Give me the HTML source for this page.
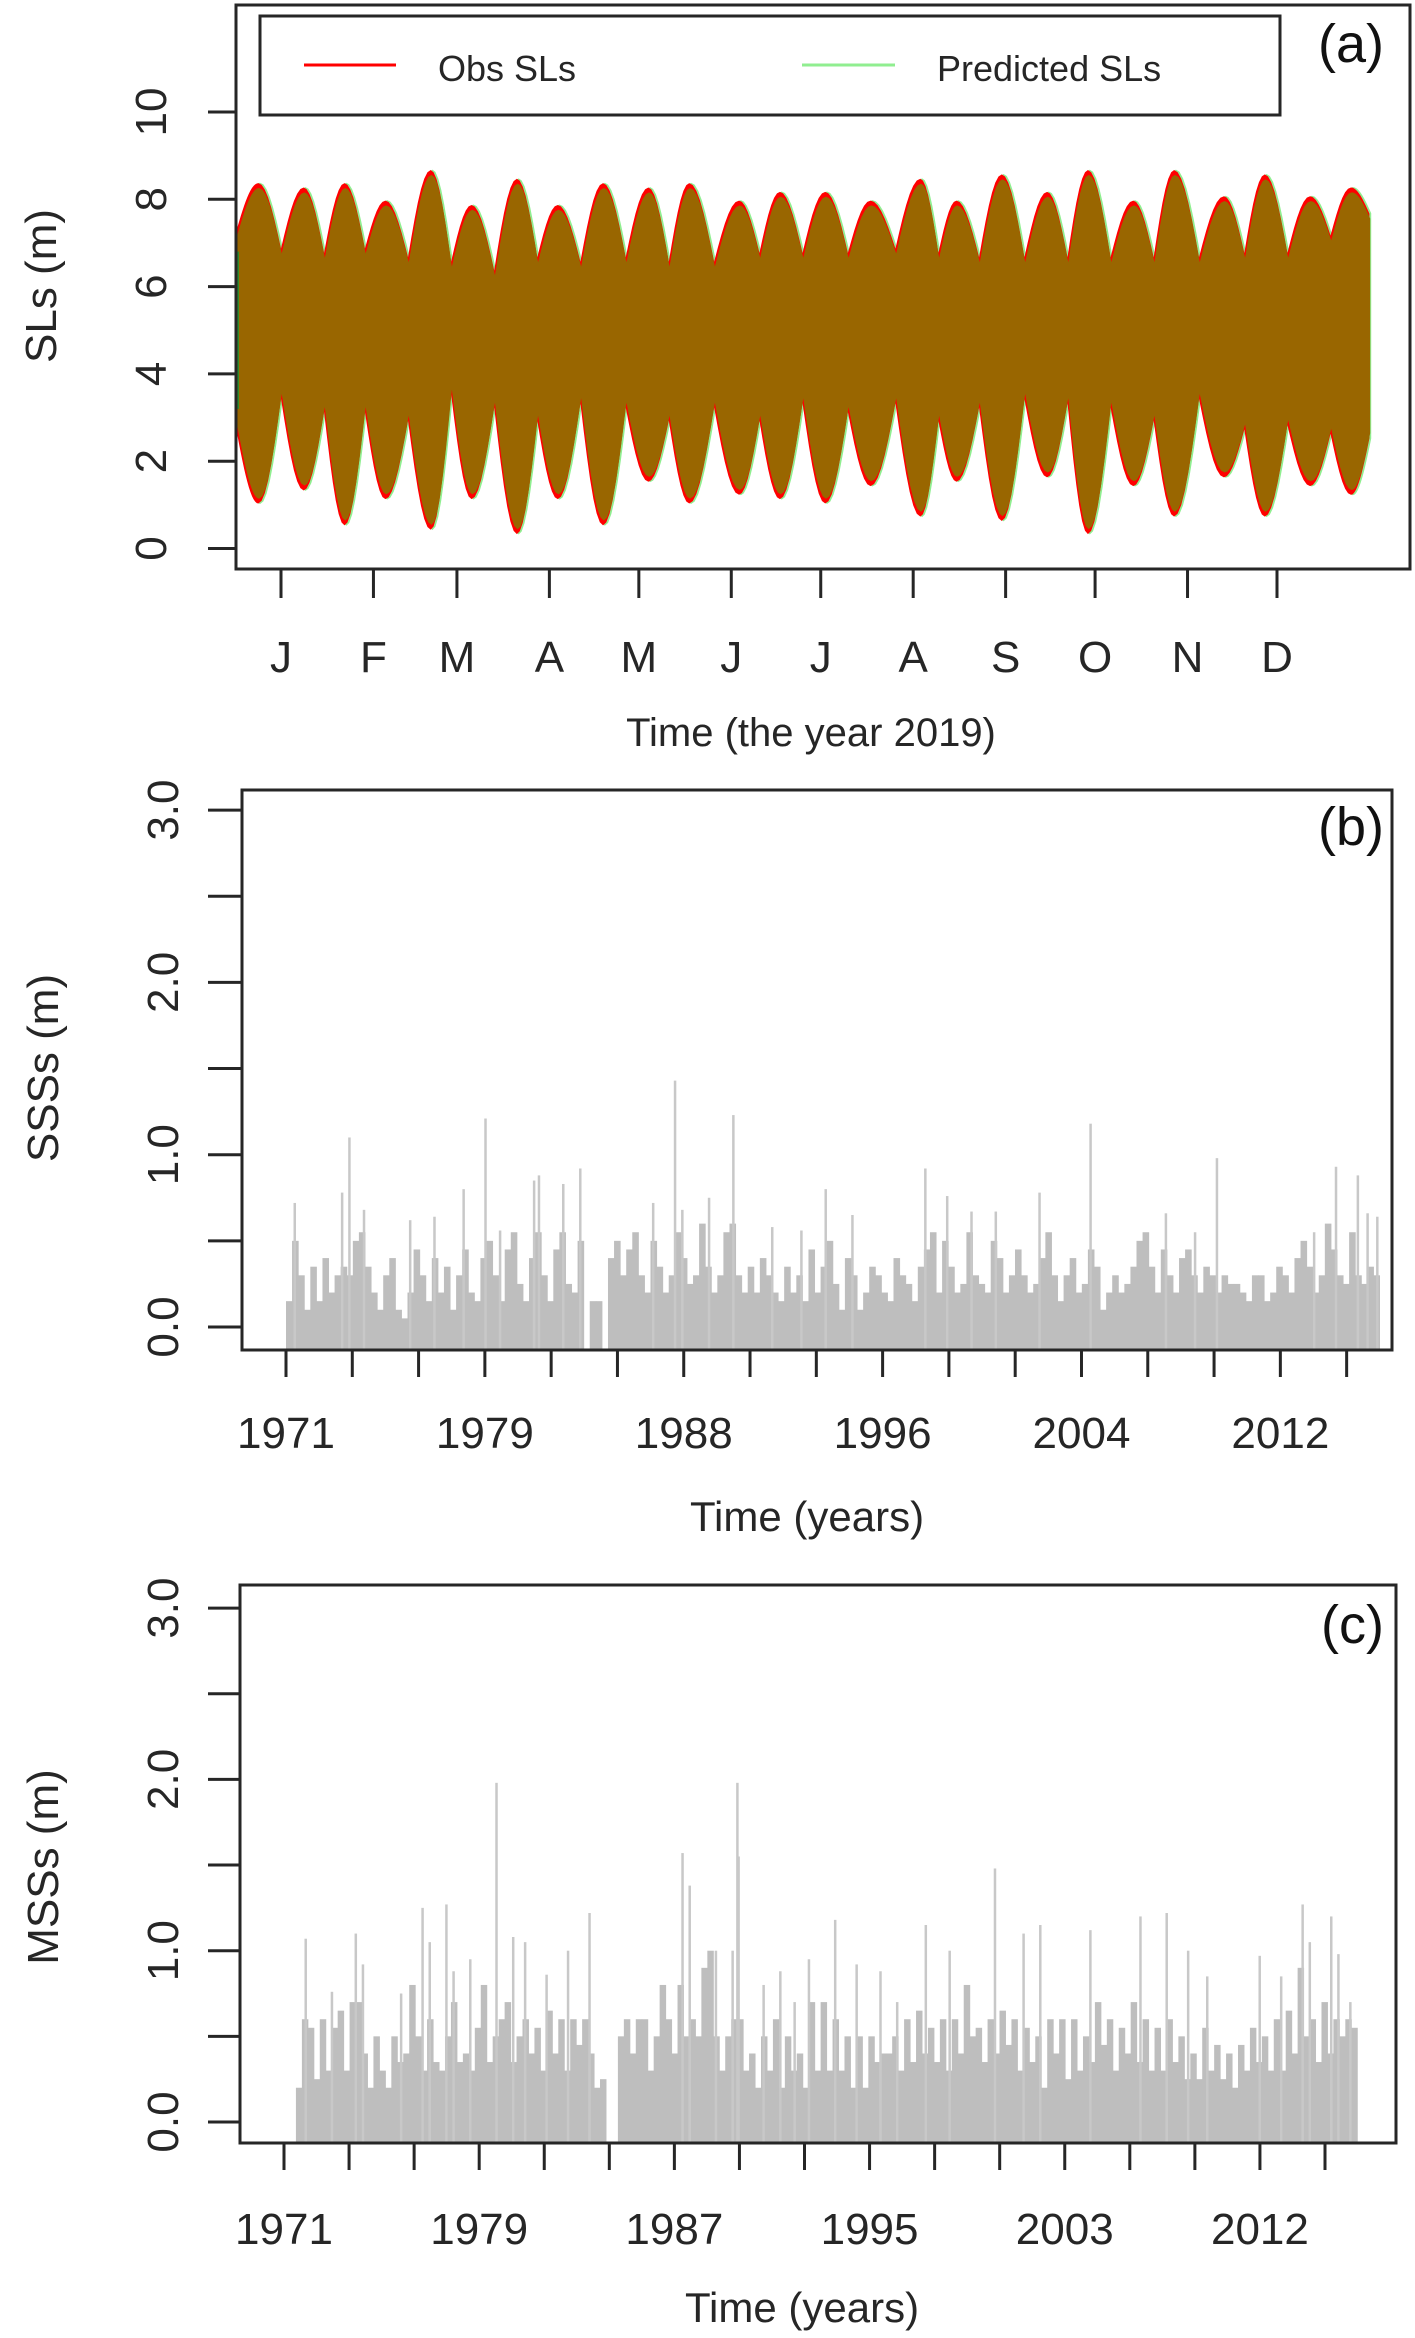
<!DOCTYPE html>
<html><head><meta charset="utf-8"><style>
html,body{margin:0;padding:0;background:#fff;}
svg{display:block;font-family:"Liberation Sans",Arial,sans-serif;}
</style></head><body>
<svg id="fig" width="1415" height="2338" viewBox="0 0 1415 2338" xmlns="http://www.w3.org/2000/svg">
<rect width="1415" height="2338" fill="#fff"/>
<g id="pa"></g>
<g id="pb"></g>
<g id="pc"></g>
</svg>
<script>
// ---------- Panel (a) data ----------
const monthLabels = ["J","F","M","A","M","J","J","A","S","O","N","D"];
const monthStartDays = [0,31,59,90,120,151,181,212,243,273,304,334];
const slTicks = [0,2,4,6,8,10];
const springDays = [-7.6,7.6,21.3,35,50.2,63.9,79.1,92.8,108,123.2,136.9,153.6,167.3,182.5,197.7,214.4,226.5,241.7,256.9,270.6,285.8,299.5,316.2,329.9,345.1,358.8];
const upperSpring = [8.3,8.2,8.3,7.9,8.6,7.8,8.4,7.8,8.3,8.2,8.3,7.9,8.1,8.1,7.9,8.4,7.9,8.5,8.1,8.6,7.9,8.6,8.0,8.5,8.0,8.2];
const upperNeap = [6.8,6.7,6.8,6.6,6.5,6.3,6.6,6.5,6.6,6.5,6.5,6.7,6.7,6.7,6.8,6.7,6.6,6.6,6.6,6.6,6.6,6.6,6.7,6.7,7.1];
const lowerSpring = [1.1,1.4,0.6,1.2,0.5,1.2,0.4,1.2,0.6,1.6,1.1,1.3,1.2,1.1,1.5,0.8,1.6,0.7,1.7,0.4,1.5,0.8,1.7,0.8,1.5,1.3];
const lowerNeap = [3.5,3.2,3.2,3.0,3.6,3.3,3.0,3.4,3.3,3.0,3.3,3.0,3.4,3.2,3.4,3.0,3.3,3.5,3.4,3.3,3.0,3.5,2.8,2.9,2.7];
const seriesStart = [-15, 7.2, 2.8];
const seriesEnd = [365, 7.6, 2.6];

// ---------- Panel (b) data (quarterly base, per year 1971..2015) ----------
const sssTickLabels = ["1971","1979","1988","1996","2004","2012"];
const sssBase = [
.15,.5,.3,.1, .35,.15,.4,.2, .3,.35,.3,.5, .55,.35,.2,.1, .3,.4,.1,.05,
.2,.45,.3,.15, .4,.2,.35,.1, .3,.45,.2,.15, .4,.5,.3,.15, .45,.55,.25,.15,
.4,.55,.3,.15, .45,.55,.25,.2, .5,null,.15,.15, null,.4,.5,.3, .45,.55,.3,.2,
.5,.35,.2,.3, .55,.4,.25,.3, .6,.35,.2,.3, .55,.6,.3,.2, .35,.2,.4,.3,
.2,.15,.35,.2, .3,.15,.45,.2, .35,.5,.25,.1, .4,.3,.1,.2, .35,.3,.2,.15,
.4,.3,.25,.15, .35,.45,.55,.2, .5,.35,.2,.25, .55,.3,.25,.2, .5,.4,.2,.3,
.45,.3,.2,.25, .4,.55,.3,.15, .3,.4,.2,.25, .45,.35,.1,.2, .3,.2,.25,.35,
.5,.55,.35,.2, .45,.3,.2,.4, .45,.3,.2,.35, .3,.2,.3,.25, .25,.2,.15,.3,
.3,.15,.2,.35, .3,.2,.4,.5, .35,.2,.3,.6, .45,.3,.25,.55, .3,.25,.35,.3];
const sssSpikeYears = [1971.35,1973.3,1973.6,1974.2,1976.1,1977.1,1978.3,1979.2,1979.8,1981.2,1981.4,1982.4,1983.1,1986.1,1987.0,1987.3,1988.4,1989.4,1991.0,1992.2,1993.2,1994.3,1997.3,1998.2,1999.2,2000.2,2002.0,2004.1,2007.2,2008.4,2009.3,2013.3,2014.2,2015.1,2015.5,2015.9];
const sssSpikeValues = [.72,.78,1.1,.68,.62,.64,.80,1.21,.56,.85,.88,.83,.92,.72,1.43,.68,.75,1.23,.58,.56,.80,.65,.92,.76,.67,.67,.78,1.18,.66,.55,.98,.55,.93,.88,.66,.64];

// ---------- Panel (c) data ----------
const mssTickLabels = ["1971","1979","1987","1995","2003","2012"];
const mssBase = [
null,null,.2,.6, .55,.25,.6,.3, .55,.65,.3,.7, .7,.4,.2,.5, .3,.2,.5,.35,
.4,.8,.5,.3, .6,.35,.3,.5, .7,.35,.4,.3, .55,.8,.35,.5, .6,.7,.35,.5,
.6,.4,.55,.3, .65,.4,.6,.3, .6,.45,.6,.4, .2,.25,null,null, .5,.6,.4,.6,
.6,.3,.5,.8, .6,.4,.8,.5, .6,.5,.9,1.0, .5,.3,.5,.6, .6,.3,.4,.2,
.5,.3,.6,.2, .5,.3,.4,.2, .7,.3,.7,.3, .6,.3,.5,.2, .5,.2,.5,.35,
.4,.4,.5,.3, .6,.35,.65,.4, .55,.35,.6,.3, .6,.4,.8,.5, .55,.35,.6,.4,
.65,.45,.6,.3, .55,.35,.5,.2, .6,.4,.6,.25, .6,.3,.5,.35, .7,.45,.6,.3,
.55,.4,.7,.35, .6,.3,.55,.3, .6,.35,.5,.25, .4,.25,.55,.3, .45,.25,.4,.2,
.45,.3,.55,.35, .5,.3,.6,.3, .65,.4,.9,.5, .6,.35,.7,.4, .6,.5,.6,.55];
const mssSpikeYears = [1971.9,1973.0,1974.0,1974.3,1975.9,1976.8,1977.1,1977.8,1978.1,1978.8,1979.9,1980.6,1981.1,1982.0,1982.9,1983.8,1987.7,1988.0,1989.1,1989.8,1990.0,1990.05,1991.1,1991.8,1992.4,1993.0,1994.1,1995.0,1996.0,1996.7,1997.9,1998.9,2000.8,2002.0,2002.7,2004.8,2006.9,2008.0,2008.9,2009.7,2011.9,2012.8,2013.7,2014.0,2014.9,2015.2,2015.7];
const mssSpikeValues = [1.07,.76,1.1,.92,.75,1.25,1.05,1.27,.88,.95,1.98,1.08,1.05,.86,1.0,1.22,1.57,1.38,1.0,1.0,1.98,1.55,.8,.88,.7,.95,1.18,.92,.88,.7,1.15,1.0,1.48,1.1,1.15,1.12,1.2,1.22,1.0,.85,.97,.85,1.27,1.05,1.2,.98,.7];

const NS = "http://www.w3.org/2000/svg";
function mk(parent, tag, attrs, text){
  const e = document.createElementNS(NS, tag);
  for (const k in attrs) e.setAttribute(k, attrs[k]);
  if (text !== undefined) e.textContent = text;
  parent.appendChild(e);
  return e;
}
const INK = "#262626";

// ================= Panel (a) =================
(function(){
  const g = document.getElementById('pa');
  const L=236, R=1410, T=5, B=569;
  const xS = d => 281 + d*2.982;
  const yS = v => 548.5 - v*43.65;
  // envelope: rounded lobes at spring tides, cusps at neap tides
  const up = [], lo = [];
  const N = 14;
  // lead-in from series start to first spring
  for (let k=0;k<=N;k++){
    const t = k/N;
    const d = seriesStart[0] + (springDays[0]-seriesStart[0])*t;
    const a = Math.sin(Math.PI/2*t);
    up.push([d, seriesStart[1] + (upperSpring[0]-seriesStart[1])*a]);
    lo.push([d, seriesStart[2] + (lowerSpring[0]-seriesStart[2])*a]);
  }
  for (let i=0;i<springDays.length-1;i++){
    for (let k=1;k<=N;k++){
      const t = k/N;
      const d = springDays[i] + (springDays[i+1]-springDays[i])*t;
      const a = Math.abs(Math.cos(Math.PI*t));
      const su = t<0.5 ? upperSpring[i] : upperSpring[i+1];
      const sl = t<0.5 ? lowerSpring[i] : lowerSpring[i+1];
      up.push([d, upperNeap[i] + (su-upperNeap[i])*a]);
      lo.push([d, lowerNeap[i] + (sl-lowerNeap[i])*a]);
    }
  }
  const last = springDays.length-1;
  for (let k=1;k<=N;k++){
    const t = k/N;
    const d = springDays[last] + (seriesEnd[0]-springDays[last])*t;
    const a = Math.cos(Math.PI/2*t);
    up.push([d, seriesEnd[1] + (upperSpring[last]-seriesEnd[1])*a]);
    lo.push([d, seriesEnd[2] + (lowerSpring[last]-seriesEnd[2])*a]);
  }
  const poly = (dx, dv) => up.map(p=>xS(p[0]+dx)+","+yS(p[1]+dv)).concat(lo.slice().reverse().map(p=>xS(p[0]+dx)+","+yS(p[1]-dv))).join(" ");
  const green = mk(g,'polygon',{points:poly(0.6,0.08),fill:'#90ee90'});
  
  
  const red = mk(g,'polygon',{points:poly(0,0.07),fill:'#ff0000'});
  
  
  const brown = mk(g,'polygon',{points:poly(0.25,-0.04),fill:'#996600'});
  
  
  mk(g,'line',{x1:238,y1:yS(6.8),x2:238,y2:yS(3.2),stroke:'#2e8b2e','stroke-width':2});
  // frame
  const fr = mk(g,'rect',{x:L,y:T,width:R-L,height:B-T,fill:'none',stroke:INK,'stroke-width':3});
  
  
  slTicks.forEach(v=>{
    const y=yS(v);
    mk(g,'line',{x1:208,y1:y,x2:L,y2:y,stroke:INK,'stroke-width':3});
    const t = mk(g,'text',{transform:`translate(166,${y}) rotate(-90)`,'text-anchor':'middle','font-size':44,fill:INK},String(v));
    
    
  });
  monthStartDays.forEach((d,i)=>{
    const x=xS(d);
    mk(g,'line',{x1:x,y1:B,x2:x,y2:598,stroke:INK,'stroke-width':3});
    const t = mk(g,'text',{x:x,y:672,'text-anchor':'middle','font-size':44,fill:INK},monthLabels[i]);
    
    
  });
  const xt = mk(g,'text',{x:811,y:746,'text-anchor':'middle','font-size':40,fill:INK},"Time (the year 2019)");
  
  
  const yt = mk(g,'text',{transform:'translate(56,286) rotate(-90)','text-anchor':'middle','font-size':44,fill:INK},"SLs (m)");
  
  
  const lg = mk(g,'g',{});
  
  
  mk(lg,'rect',{x:260,y:16,width:1020,height:99,fill:'#fff',stroke:INK,'stroke-width':3});
  mk(lg,'line',{x1:304,y1:65,x2:396,y2:65,stroke:'#ff0000','stroke-width':3});
  const l1 = mk(lg,'text',{x:438,y:81,'font-size':36,fill:INK},"Obs SLs");
  
  
  mk(lg,'line',{x1:802,y1:65,x2:895,y2:65,stroke:'#90ee90','stroke-width':3});
  const l2 = mk(lg,'text',{x:937,y:81,'font-size':36,fill:INK},"Predicted SLs");
  
  
  const pl = mk(g,'text',{x:1384,y:62,'text-anchor':'end','font-size':54,fill:'#111'},"(a)");
  
  
})();

// ================= Panels (b),(c) =================
function barPanel(cfg){
  const g = document.getElementById(cfg.id);
  const xS = yr => cfg.x0 + (yr-1971)*cfg.ppy;
  const yS = v => cfg.y0 - v*cfg.ppu;
  const bars = mk(g,'g',{fill:'#bebebe'});
  
  
  cfg.base.forEach((v,i)=>{
    if (v===null) return;
    const yr = 1971 + i*0.25;
    const x1 = xS(yr), x2 = xS(yr+0.25);
    const r = mk(bars,'rect',{x:x1,y:yS(v),width:x2-x1+0.5,height:cfg.B-yS(v)});
    
    
  });
  cfg.spikeYears.forEach((yr,i)=>{
    const v = cfg.spikeValues[i];
    const r = mk(bars,'rect',{x:xS(yr)-1,y:yS(v),width:2.5,height:cfg.B-yS(v),fill:'#c8c8c8'});
    
    
  });
  const fr = mk(g,'rect',{x:cfg.L,y:cfg.T,width:cfg.R-cfg.L,height:cfg.B-cfg.T,fill:'none',stroke:INK,'stroke-width':3});
  
  
  for (let k=0;k<=6;k++){
    const v=k*0.5, y=yS(v);
    mk(g,'line',{x1:208,y1:y,x2:cfg.L,y2:y,stroke:INK,'stroke-width':3});
    if (k%2===0){
      const t = mk(g,'text',{transform:`translate(178,${y}) rotate(-90)`,'text-anchor':'middle','font-size':44,fill:INK},v.toFixed(1));
      
      
    }
  }
  for (let k=0;k<17;k++){
    const x = xS(1971 + k*cfg.tickStep);
    mk(g,'line',{x1:x,y1:cfg.B,x2:x,y2:cfg.B+27,stroke:INK,'stroke-width':3});
    if (k%3===0){
      const t = mk(g,'text',{x:x,y:cfg.labY,'text-anchor':'middle','font-size':44,fill:INK},cfg.labels[k/3]);
      
      
    }
  }
  const xt = mk(g,'text',{x:cfg.titleX,y:cfg.titleY,'text-anchor':'middle','font-size':42,fill:INK},"Time (years)");
  
  
  const yt = mk(g,'text',{transform:`translate(58,${cfg.ytY}) rotate(-90)`,'text-anchor':'middle','font-size':44,fill:INK},cfg.ytitle);
  
  
  const pl = mk(g,'text',{x:1384,y:cfg.plY,'text-anchor':'end','font-size':54,fill:'#111'},"("+cfg.tag+")");
  
  
}
barPanel({id:'pb',tag:'b',name:'sss',L:242,R:1392,T:790,B:1350,x0:286,ppy:24.3,tickStep:2.728,
  y0:1327,ppu:172.3,base:sssBase,spikeYears:sssSpikeYears,spikeValues:sssSpikeValues,
  labels:sssTickLabels,labY:1448,titleX:807,titleY:1531,ytY:1068,ytitle:"SSSs (m)",plY:845});
barPanel({id:'pc',tag:'c',name:'mss',L:240,R:1396,T:1585,B:2143,x0:284,ppy:23.85,tickStep:2.728,
  y0:2122,ppu:171.3,base:mssBase,spikeYears:mssSpikeYears,spikeValues:mssSpikeValues,
  labels:mssTickLabels,labY:2244,titleX:802,titleY:2322,ytY:1867,ytitle:"MSSs (m)",plY:1643});
</script>
</body></html>
